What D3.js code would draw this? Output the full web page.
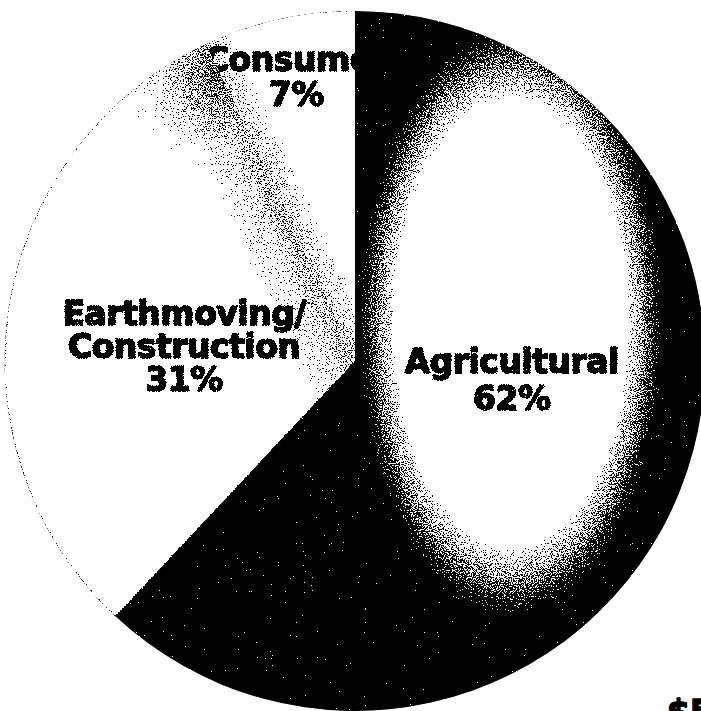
<!DOCTYPE html>
<html>
<head>
<meta charset="utf-8">
<script src="https://cdn.jsdelivr.net/npm/d3@7/dist/d3.min.js"></script>
<style>
  html, body { margin: 0; padding: 0; background: #fff; overflow: hidden; }
  svg { display: block; }
  text { font-family: "DejaVu Sans", "Liberation Sans", sans-serif; font-weight: bold; fill: #000;
         stroke: #000; stroke-width: 1.6; stroke-linejoin: round; letter-spacing: -0.5px; }
</style>
</head>
<body>
<svg id="chart" width="701" height="711"></svg>
<script>
// ---- data ----
const categories = ["Agricultural", "Earthmoving/Construction", "Consumer"];
const labelLines = [["Agricultural"], ["Earthmoving/", "Construction"], ["Consumer"]];
const values = [62, 31, 7];
const footerText = "$5";

// ---- layout ----
const W = 701, H = 711;
const cx = 355, cy = 361, R = 350;
const labelRadius = [160, 173, 288];
const labelShift = [[8, -40], [0, 12], [4, -3]];
const fontSize = 33, lineH = [37, 33, 35];

const svg = d3.select("#chart");
const defs = svg.append("defs");

// halftone-like dithering filter
const f = defs.append("filter").attr("id", "dither")
  .attr("color-interpolation-filters", "sRGB")
  .attr("x", "-5%").attr("y", "-5%").attr("width", "110%").attr("height", "110%");
f.append("feTurbulence").attr("type", "fractalNoise").attr("baseFrequency", 0.85)
  .attr("numOctaves", 2).attr("seed", 7).attr("result", "n0");
f.append("feColorMatrix").attr("in", "n0").attr("type", "matrix")
  .attr("values", "1 0 0 0 0  1 0 0 0 0  1 0 0 0 0  0 0 0 0 1").attr("result", "n1");
const ct = f.append("feComponentTransfer").attr("in", "n1").attr("result", "n2");
const cdf = "0 0 0 0.04 0.2 0.5 0.8 0.96 1 1 1";
ct.append("feFuncR").attr("type", "table").attr("tableValues", cdf);
ct.append("feFuncG").attr("type", "table").attr("tableValues", cdf);
ct.append("feFuncB").attr("type", "table").attr("tableValues", cdf);
f.append("feComposite").attr("in", "SourceGraphic").attr("in2", "n2")
  .attr("operator", "arithmetic").attr("k1", 0).attr("k2", 1).attr("k3", 1).attr("k4", -0.5)
  .attr("result", "sum");
const th = f.append("feComponentTransfer").attr("in", "sum").attr("result", "bw");
th.append("feFuncR").attr("type", "discrete").attr("tableValues", "0 1");
th.append("feFuncG").attr("type", "discrete").attr("tableValues", "0 1");
th.append("feFuncB").attr("type", "discrete").attr("tableValues", "0 1");
f.append("feComposite").attr("in", "bw").attr("in2", "SourceAlpha").attr("operator", "in");

const pie = d3.pie().sort(null).value(d => d).startAngle(0).endAngle(2 * Math.PI);
const arcs = pie(values);
const arc = d3.arc().innerRadius(0).outerRadius(R);

// gradients are defined in the slice group's coordinate system (origin = pie centre)
// Agricultural: black with elliptical white core
const agCx = 156, agCy = -38, agR = 292;
const rg = defs.append("radialGradient").attr("id", "agGrad")
  .attr("gradientUnits", "userSpaceOnUse")
  .attr("cx", agCx).attr("cy", agCy).attr("r", agR)
  .attr("gradientTransform", `translate(${agCx},${agCy}) scale(0.52,1) translate(${-agCx},${-agCy})`);
rg.append("stop").attr("offset", 0).attr("stop-color", "#fff");
rg.append("stop").attr("offset", 0.77).attr("stop-color", "#fff");
rg.append("stop").attr("offset", 0.86).attr("stop-color", "#999");
rg.append("stop").attr("offset", 0.95).attr("stop-color", "#222");
rg.append("stop").attr("offset", 1.0).attr("stop-color", "#000");

// boundary between Earthmoving and Consumer
const bAng = arcs[1].endAngle;
const bx = Math.sin(bAng), by = -Math.cos(bAng);
const nx = -by, ny = bx; // normal pointing toward the Consumer side
const mid = R * 0.55;
const p1 = [bx * mid, by * mid];

function sideGrad(id, dir, dist, c0) {
  const p2 = [p1[0] + dir * nx * dist, p1[1] + dir * ny * dist];
  const lg = defs.append("linearGradient").attr("id", id)
    .attr("gradientUnits", "userSpaceOnUse")
    .attr("x1", p1[0]).attr("y1", p1[1]).attr("x2", p2[0]).attr("y2", p2[1]);
  lg.append("stop").attr("offset", 0).attr("stop-color", c0);
  lg.append("stop").attr("offset", 0.4).attr("stop-color", "#e0e0e0");
  lg.append("stop").attr("offset", 1).attr("stop-color", "#fff");
}
sideGrad("emGrad", -1, 55, "#a8a8a8");
sideGrad("coGrad", 1, 28, "#c0c0c0");

// extra shading near the outer tip of the Earthmoving slice
const tip = [bx * (R - 35), by * (R - 35)];
const tg = defs.append("radialGradient").attr("id", "tipGrad")
  .attr("gradientUnits", "userSpaceOnUse")
  .attr("cx", tip[0]).attr("cy", tip[1]).attr("r", 95);
tg.append("stop").attr("offset", 0).attr("stop-color", "#444").attr("stop-opacity", 0.9);
tg.append("stop").attr("offset", 0.45).attr("stop-color", "#999").attr("stop-opacity", 0.55);
tg.append("stop").attr("offset", 1).attr("stop-color", "#fff").attr("stop-opacity", 0);

const fills = ["url(#agGrad)", "url(#emGrad)", "url(#coGrad)"];
const strokes = ["none", "#c4c4c4", "none"];

const g = svg.append("g").attr("transform", `translate(${cx},${cy})`)
  .attr("filter", "url(#dither)");

// draw order: Consumer, Earthmoving, Agricultural (each label right after its slice)
[2, 1, 0].forEach(i => {
  const a = arcs[i];
  g.append("path").attr("d", arc(a)).attr("fill", fills[i])
    .attr("stroke", strokes[i]).attr("stroke-width", 0.8);
  if (i === 1) g.append("path").attr("d", arc(a)).attr("fill", "url(#tipGrad)");
  const m = (a.startAngle + a.endAngle) / 2;
  const lx = Math.sin(m) * labelRadius[i] + labelShift[i][0];
  const ly = -Math.cos(m) * labelRadius[i] + labelShift[i][1];
  const lines = labelLines[i].concat([values[i] + "%"]);
  const t = g.append("text").attr("text-anchor", "middle")
    .attr("font-size", fontSize);
  const y0 = ly - (lines.length - 1) * lineH[i] / 2 + fontSize * 0.36;
  lines.forEach((s, k) => {
    t.append("tspan").attr("x", lx).attr("y", y0 + k * lineH[i]).text(s);
  });
});

svg.append("text").attr("x", 667).attr("y", 724).attr("font-size", fontSize).text(footerText);
</script>
</body>
</html>
